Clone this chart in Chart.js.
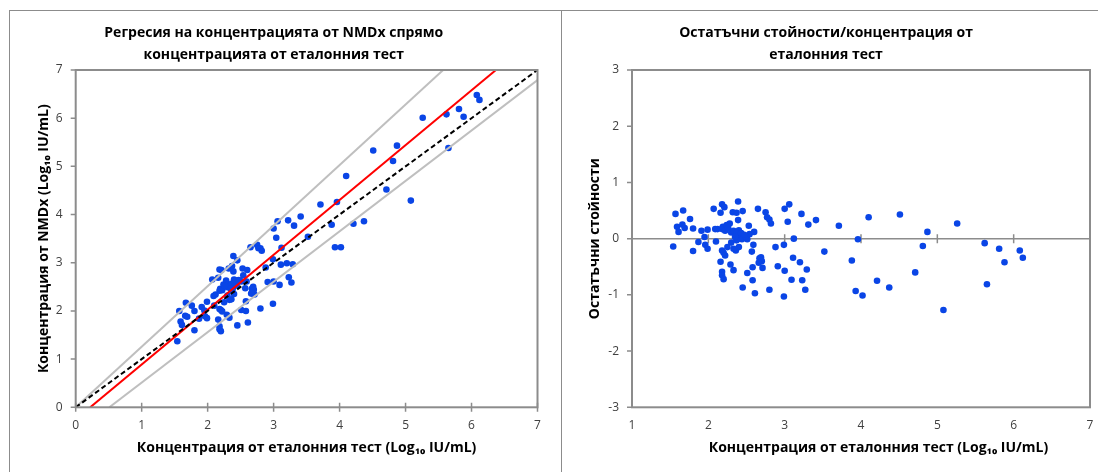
<!DOCTYPE html>
<html>
<head>
<meta charset="utf-8">
<script src="https://cdn.jsdelivr.net/npm/chart.js@4.4.0/dist/chart.umd.min.js"></script>
<style>
  html, body { margin: 0; padding: 0; background: #fff; width: 1098px; height: 472px; overflow: hidden; }
  #frame { position: absolute; left: 9px; top: 10px; width: 1200px; height: 480px;
           border-top: 1px solid #8c8c8c; border-left: 1px solid #8c8c8c; }
  #divider { position: absolute; left: 561px; top: 10px; width: 1px; height: 480px; background: #8c8c8c; }
  canvas { position: absolute; top: 11px; }
  #left { left: 10px; }
  #right { left: 562px; }
</style>
</head>
<body>
<div id="frame"></div>
<div id="divider"></div>
<canvas id="left" width="551" height="461"></canvas>
<canvas id="right" width="568" height="461"></canvas>
<script>
// reference method concentration (Log10 IU/mL), same points on both panels
const refConc = [
  1.54, 1.57, 1.59, 1.61, 1.66, 1.67, 1.69, 1.76, 1.80, 1.80,
  1.87, 1.91, 1.95, 1.96, 1.99, 1.99, 2.07, 2.09, 2.10, 2.12,
  2.16, 2.16, 2.18, 2.21, 2.18, 2.19, 2.22, 2.24, 2.28, 2.18,
  2.20, 2.22, 2.18, 2.18, 2.20, 2.25, 2.29, 2.30, 2.30, 2.32,
  2.33, 2.36, 2.38, 2.39, 2.37, 2.39, 2.40, 2.40, 2.42, 2.44,
  2.45, 2.45, 2.51, 2.51, 2.53, 2.54, 2.57, 2.58, 2.59, 2.58,
  2.60, 2.61, 2.65, 2.67, 2.69, 2.70, 2.71, 2.75, 2.77, 2.80,
  2.82, 2.80, 2.88, 2.91, 2.99, 2.99, 3.00, 3.00, 3.04, 3.06,
  3.09, 3.11, 3.12, 3.20, 3.22, 3.23, 3.27, 3.29, 3.31, 3.41,
  3.52, 3.71, 3.88, 3.93, 3.96, 4.02, 4.10, 4.21, 4.37, 4.51,
  4.71, 4.81, 4.87, 5.08, 5.26, 5.62, 5.65, 5.81, 5.88, 6.08,
  6.12, 2.33, 2.37, 2.43, 2.37, 2.33, 2.49, 2.26, 2.47, 2.35,
  2.66
];
// NMDx concentration (Log10 IU/mL)
const nmdxConc = [
  1.37, 2.00, 1.78, 1.71, 1.90, 2.17, 1.88, 2.11, 2.00, 1.60,
  1.84, 2.08, 2.01, 1.89, 1.85, 2.19, 2.65, 2.31, 2.11, 2.34,
  2.69, 1.82, 2.86, 2.85, 2.42, 2.46, 2.43, 2.55, 2.63, 2.04,
  2.02, 1.99, 1.68, 1.62, 1.58, 2.18, 1.92, 2.32, 2.49, 2.88,
  1.86, 2.24, 2.46, 3.14, 2.93, 2.82, 2.65, 2.35, 2.58, 2.53,
  3.05, 1.70, 2.61, 2.02, 2.88, 2.74, 2.47, 2.20, 2.61, 2.00,
  2.85, 1.76, 3.32, 2.46, 2.50, 2.44, 2.34, 3.37, 3.30, 3.30,
  3.25, 2.05, 2.90, 2.60, 3.07, 2.15, 3.71, 2.61, 3.52, 3.86,
  2.54, 2.96, 3.31, 2.99, 3.88, 2.70, 2.59, 2.97, 3.77, 3.96,
  3.54, 4.21, 3.79, 3.32, 4.26, 3.32, 4.80, 3.81, 3.86, 5.33,
  4.52, 5.11, 5.43, 4.29, 6.01, 6.08, 5.38, 6.19, 6.03, 6.48,
  6.38, 2.55, 2.57, 2.63, 2.43, 2.23, 2.63, 2.52, 2.64, 2.46,
  2.36
];
// residuals (right panel)
const residuals = [
  -0.14, 0.44, 0.21, 0.12, 0.25, 0.50, 0.19, 0.35, 0.18, -0.22,
  -0.06, 0.14, 0.03, -0.11, -0.18, 0.16, 0.53, 0.17, -0.05, 0.17,
  0.46, -0.41, 0.61, 0.56, 0.17, 0.21, 0.14, 0.24, 0.27, -0.21,
  -0.25, -0.30, -0.59, -0.65, -0.72, -0.15, -0.46, -0.07, 0.11, 0.47,
  -0.56, -0.21, -0.01, 0.66, 0.46, 0.33, 0.15, -0.15, 0.06, -0.01,
  0.49, -0.87, -0.01, -0.61, 0.23, 0.08, -0.23, -0.51, -0.11, -0.74,
  0.12, -0.97, 0.53, -0.35, -0.33, -0.40, -0.52, 0.47, 0.38, 0.34,
  0.27, -0.91, -0.15, -0.49, -0.11, -1.03, 0.53, -0.57, 0.30, 0.61,
  -0.73, -0.34, 0.00, -0.42, 0.44, -0.74, -0.91, -0.55, 0.25, 0.33,
  -0.23, 0.23, -0.39, -0.93, -0.01, -1.01, 0.38, -0.75, -0.87, 0.43,
  -0.60, -0.13, 0.12, -1.27, 0.27, -0.08, -0.81, -0.18, -0.42, -0.21,
  -0.34, 0.14, 0.11, 0.10, -0.03, -0.18, 0.04, 0.19, 0.07, 0.03,
  -0.43
];

// reference lines (start / end in data units)
const identityX = [0, 7],    identityY = [0, 7];
const regressionX = [0.22, 6.37], regressionY = [0, 7];
const upperX = [0, 5.57],    upperY = [0, 7];
const lowerX = [0.51, 7],    lowerY = [0, 6.79];

const leftTitle = ['Регресия на концентрацията от NMDx спрямо', 'концентрацията от еталонния тест'];
const leftYTitle = 'Концентрация от NMDx (Log₁₀ IU/mL)';
const xTitle = 'Концентрация от еталонния тест (Log₁₀ IU/mL)';
const rightTitle = ['Остатъчни стойности/концентрация от', 'еталонния тест'];
const rightYTitle = 'Остатъчни стойности';

const FONT = "'Open Sans', 'Noto Sans', 'DejaVu Sans', sans-serif";
const GRAY = '#8c8c8c';
const BLUE = '#0a45e6';

function pairs(xs, ys) {
  return xs.map((x, i) => ({ x: x, y: ys[i] }));
}

function line(xs, ys, color, width, dash, order) {
  return {
    type: 'line',
    data: pairs(xs, ys),
    borderColor: color,
    borderWidth: width,
    borderDash: dash,
    pointRadius: 0,
    fill: false,
    order: order
  };
}

// tick marks, zero line and plot frame
const axesPlugin = {
  id: 'axesPlugin',
  beforeDatasetsDraw(chart, args, opts) {
    const { ctx, chartArea: a, scales: { x, y } } = chart;
    const axisY = opts.zero ? y.getPixelForValue(0) : a.bottom;
    ctx.save();
    ctx.strokeStyle = GRAY;
    ctx.lineWidth = 1.5;
    ctx.beginPath();
    y.ticks.forEach(t => {
      const py = y.getPixelForValue(t.value);
      ctx.moveTo(a.left - 5, py);
      ctx.lineTo(a.left, py);
    });
    x.ticks.forEach(t => {
      const px = x.getPixelForValue(t.value);
      ctx.moveTo(px, axisY - 4.5);
      ctx.lineTo(px, axisY + 4.5);
    });
    if (opts.zero) {
      ctx.moveTo(a.left, axisY);
      ctx.lineTo(a.right, axisY);
    }
    ctx.stroke();
    ctx.restore();
  },
  afterDatasetsDraw(chart) {
    const { ctx, chartArea: a } = chart;
    ctx.save();
    ctx.strokeStyle = GRAY;
    ctx.lineWidth = 2;
    ctx.strokeRect(a.left, a.top, a.right - a.left, a.bottom - a.top);
    ctx.restore();
  }
};

function scaleX(min, max, title) {
  return {
    type: 'linear', min: min, max: max,
    grid: { display: false, drawTicks: false },
    border: { display: false },
    ticks: { stepSize: 1, padding: 11, color: '#404040', font: { family: FONT, size: 12 } },
    title: { display: true, text: title, color: '#000', padding: { top: 0, bottom: 16 },
             font: { family: FONT, size: 14, weight: 'bold', lineHeight: 1.2 } },
    afterFit: s => { s.height = 64.7; }
  };
}

function scaleY(min, max, title, width, titlePad) {
  return {
    type: 'linear', min: min, max: max,
    grid: { display: false, drawTicks: false },
    border: { display: false },
    ticks: { stepSize: 1, padding: 13, color: '#404040', font: { family: FONT, size: 12 } },
    title: { display: true, text: title, color: '#000', padding: { top: titlePad, bottom: 0 },
             font: { family: FONT, size: 14, weight: 'bold', lineHeight: 1.2 } },
    afterFit: s => { s.width = width; }
  };
}

function titleOpts(text) {
  return {
    display: true, text: text, color: '#000',
    font: { family: FONT, size: 14, weight: 'bold', lineHeight: 1.55 },
    padding: { top: 11, bottom: 4.6 }
  };
}

new Chart(document.getElementById('left'), {
  type: 'scatter',
  data: {
    datasets: [
      { data: pairs(refConc, nmdxConc), backgroundColor: BLUE, borderWidth: 0, pointRadius: 3.3, order: 5 },
      line(upperX, upperY, '#bfbfbf', 2, [], 3),
      line(lowerX, lowerY, '#bfbfbf', 2, [], 3),
      line(regressionX, regressionY, '#ff0000', 2, [], 2),
      line(identityX, identityY, '#000000', 2, [5, 3], 1)
    ]
  },
  options: {
    responsive: false,
    animation: false,
    layout: { padding: { left: 0, right: 23.5, top: 0, bottom: 0 } },
    scales: {
      x: scaleX(0, 7, xTitle),
      y: scaleY(0, 7, leftYTitle, 65.7, 26)
    },
    plugins: {
      legend: { display: false },
      tooltip: { enabled: false },
      title: titleOpts(leftTitle),
      axesPlugin: { zero: false }
    }
  },
  plugins: [axesPlugin]
});

new Chart(document.getElementById('right'), {
  type: 'scatter',
  data: {
    datasets: [
      { data: pairs(refConc, residuals), backgroundColor: BLUE, borderWidth: 0, pointRadius: 3.3 }
    ]
  },
  options: {
    responsive: false,
    animation: false,
    layout: { padding: { left: 0, right: 40, top: 0, bottom: 0 } },
    scales: {
      x: scaleX(1, 7, '\u2002\u2002\u2002\u2002\u2002' + xTitle),
      y: scaleY(-3, 3, rightYTitle, 70, 25)
    },
    plugins: {
      legend: { display: false },
      tooltip: { enabled: false },
      title: titleOpts(rightTitle),
      axesPlugin: { zero: true }
    }
  },
  plugins: [axesPlugin]
});
</script>
</body>
</html>
